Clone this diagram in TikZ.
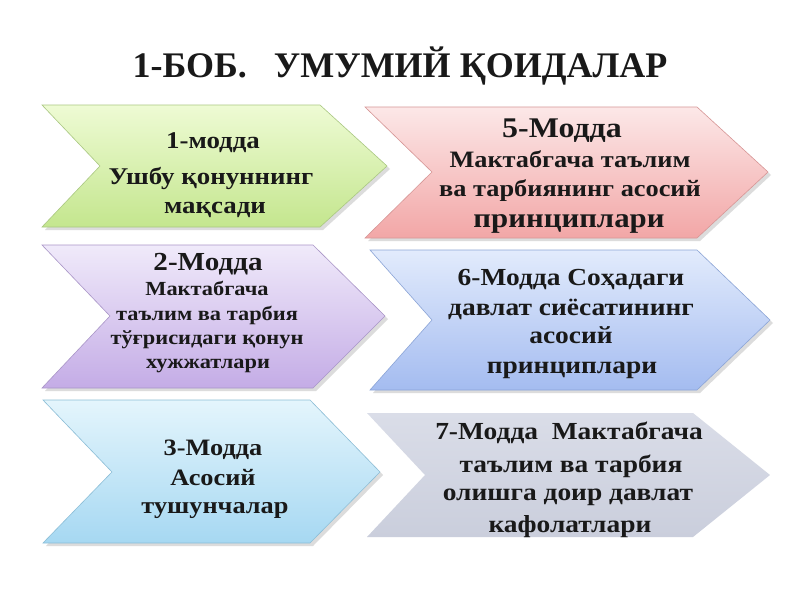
\documentclass[tikz,border=0pt]{standalone}
\usepackage{fontspec}
\setmainfont{Liberation Serif}
\newfontfamily\boxfont{Liberation Serif}[FakeStretch=1.12]
\definecolor{gtop}{RGB}{238,251,212}
\definecolor{gbot}{RGB}{196,230,142}
\definecolor{gline}{RGB}{170,200,130}
\definecolor{ptop}{RGB}{252,232,232}
\definecolor{pbot}{RGB}{242,166,166}
\definecolor{pline}{RGB}{215,150,150}
\definecolor{vtop}{RGB}{240,234,250}
\definecolor{vbot}{RGB}{196,172,230}
\definecolor{vline}{RGB}{170,150,200}
\definecolor{btop}{RGB}{226,235,252}
\definecolor{bbot}{RGB}{164,188,240}
\definecolor{bline}{RGB}{140,165,215}
\definecolor{ctop}{RGB}{228,245,252}
\definecolor{cbot}{RGB}{166,216,242}
\definecolor{cline}{RGB}{140,190,215}
\definecolor{stop}{RGB}{218,221,232}
\definecolor{sbot}{RGB}{202,206,220}
\definecolor{txtc}{RGB}{25,25,25}
\begin{document}
\begin{tikzpicture}[x=1pt,y=-1pt,
  chevshadow/.style={fill=black!30, opacity=0.45},
  fs/.style={anchor=base, inner sep=0pt, text=txtc,
    font=\boxfont\fontsize{#1}{#1}\selectfont\bfseries},
  ts/.style={anchor=base, inner sep=0pt, text=txtc,
    font=\fontsize{#1}{#1}\selectfont\bfseries}]
\useasboundingbox (0,0) rectangle (800,600);
\fill[white] (0,0) rectangle (800,600);

% title
\node[ts=36] (title) at (400,77) {1-БОБ.\ \ \ УМУМИЙ ҚОИДАЛАР};

% ---------- box 1 (green)
\fill[chevshadow] (45,108) -- (323,108) -- (390,169) -- (323,230) -- (45,230) -- (103,169) -- cycle;
\path[draw=gline, line width=0.6pt, top color=gtop, bottom color=gbot]
  (42,105) -- (320,105) -- (387,166) -- (320,227) -- (42,227) -- (100,166) -- cycle;
\node[fs=24] (b1a) at (213,148) {1-модда};
\node[fs=24] (b1b) at (211,184) {Ушбу қонуннинг};
\node[fs=24] (b1c) at (215,213) {мақсади};

% ---------- box 5 (pink)
\fill[chevshadow] (368,110) -- (700,110) -- (771,175) -- (700,241) -- (368,241) -- (435,175) -- cycle;
\path[draw=pline, line width=0.6pt, top color=ptop, bottom color=pbot]
  (365,107) -- (697,107) -- (768,172) -- (697,238) -- (365,238) -- (432,172) -- cycle;
\node[fs=28.5] (b5a) at (562,137) {5-Модда};
\node[fs=23.5] (b5b) at (570,167) {Мактабгача таълим};
\node[fs=23.5] (b5c) at (570,196) {ва тарбиянинг асосий};
\node[fs=27.5] (b5d) at (569,227) {принциплари};

% ---------- box 2 (violet)
\fill[chevshadow] (45,248) -- (316,248) -- (388,319) -- (316,391) -- (45,391) -- (113,319) -- cycle;
\path[draw=vline, line width=0.6pt, top color=vtop, bottom color=vbot]
  (42,245) -- (313,245) -- (385,316) -- (313,388) -- (42,388) -- (110,316) -- cycle;
\node[fs=26] (b2a) at (208,270) {2-Модда};
\node[fs=20] (b2b) at (207,295) {Мактабгача};
\node[fs=20] (b2c) at (207,320) {таълим ва тарбия};
\node[fs=20] (b2d) at (207,344) {тўғрисидаги қонун};
\node[fs=20] (b2e) at (208,368) {хужжатлари};

% ---------- box 6 (blue)
\fill[chevshadow] (373,253) -- (700,253) -- (773,323) -- (700,393) -- (373,393) -- (435,323) -- cycle;
\path[draw=bline, line width=0.6pt, top color=btop, bottom color=bbot]
  (370,250) -- (697,250) -- (770,320) -- (697,390) -- (370,390) -- (432,320) -- cycle;
\node[fs=24.5] (b6a) at (571,285) {6-Модда Соҳадаги};
\node[fs=24.5] (b6b) at (571,315) {давлат сиёсатининг};
\node[fs=24.5] (b6c) at (571,343) {асосий};
\node[fs=24.5] (b6d) at (572,373) {принциплари};

% ---------- box 3 (cyan)
\fill[chevshadow] (46,403) -- (313,403) -- (383,475) -- (313,546) -- (46,546) -- (115,475) -- cycle;
\path[draw=cline, line width=0.6pt, top color=ctop, bottom color=cbot]
  (43,400) -- (310,400) -- (380,472) -- (310,543) -- (43,543) -- (112,472) -- cycle;
\node[fs=23.5] (b3a) at (213,455) {3-Модда};
\node[fs=23.5] (b3b) at (213,485) {Асосий};
\node[fs=23.5] (b3c) at (215,513) {тушунчалар};

% ---------- box 7 (grey)
\path[top color=stop, bottom color=sbot]
  (367,413) -- (693,413) -- (770,475) -- (693,537) -- (367,537) -- (425,475) -- cycle;
\node[fs=24.5] (b7a) at (569,439) {7-Модда\ \ Мактабгача};
\node[fs=24.5] (b7b) at (571,472) {таълим ва тарбия};
\node[fs=24.5] (b7c) at (568,500) {олишга доир давлат};
\node[fs=24.5] (b7d) at (570,532) {кафолатлари};
\end{tikzpicture}
\end{document}
